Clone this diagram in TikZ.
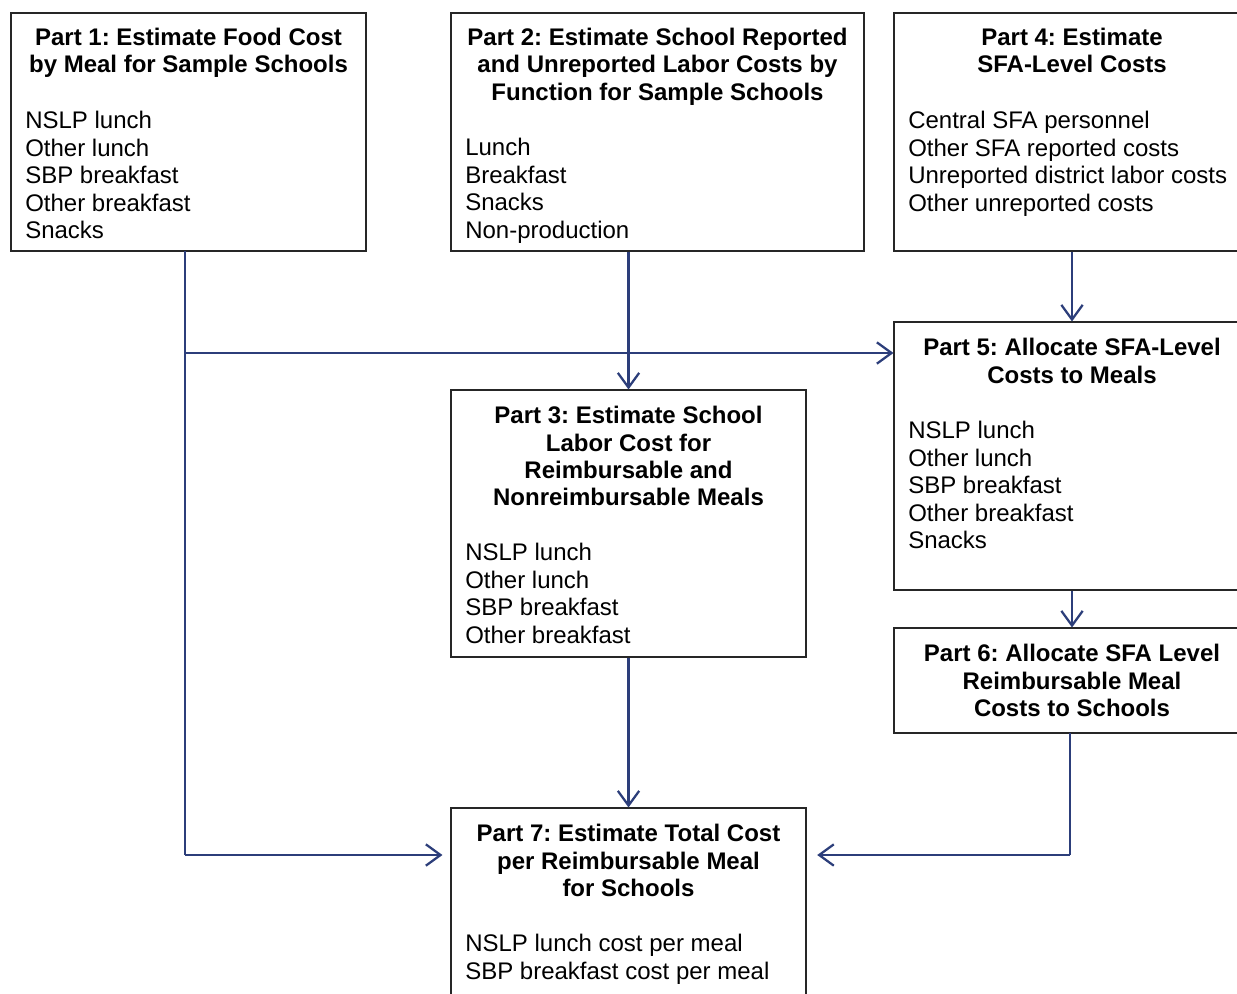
\documentclass[tikz,border=0pt]{standalone}
\usepackage{fontspec}
\setmainfont{Liberation Sans}
\usetikzlibrary{arrows.meta,fit}
\definecolor{arrblue}{RGB}{44,62,122}
\frenchspacing
\tikzset{
  box/.style={draw=black!85, line width=0.8pt, inner sep=0pt, fill=none},
  ttl/.style={font=\frenchspacing\bfseries\fontsize{18}{20.5}\selectfont, align=center, inner sep=0pt, anchor=north},
  lst/.style={font=\frenchspacing\fontsize{18}{20.6}\selectfont, align=left, inner sep=0pt, anchor=north west},
  conn/.style={draw=arrblue, line width=1.7pt},
  arr/.style={conn, -{Straight Barb[length=11pt,width=16pt,line width=1.7pt]}}
}
\begin{document}
\begin{tikzpicture}[x=0.75pt,y=-0.75pt]
\clip (0,0) rectangle (1237,993);
\useasboundingbox (0,0) rectangle (1237,993);
% boxes
\node[box, fit={(11,13) (366,251)}] (b1) {};
\node[box, fit={(451,13) (864,251)}] (b2) {};
\node[box, fit={(894,13) (1250,251)}] (b4) {};
\node[box, fit={(894,322) (1250,590)}] (b5) {};
\node[box, fit={(451,390) (806,657)}] (b3) {};
\node[box, fit={(894,628) (1250,733)}] (b6) {};
\node[box, fit={(451,808) (806,1010)}] (b7) {};
% texts
\node[ttl] (t1) at (188.5,28) {Part 1: Estimate Food Cost\\by Meal for Sample Schools};
\node[lst] (l1) at (25,111) {NSLP lunch\\Other lunch\\SBP breakfast\\Other breakfast\\Snacks};
\node[ttl] (t2) at (657.5,28) {Part 2: Estimate School Reported\\and Unreported Labor Costs by\\Function for Sample Schools};
\node[lst] (l2) at (465,138) {Lunch\\Breakfast\\Snacks\\Non-production};
\node[ttl] (t4) at (1072,28) {Part 4: Estimate\\SFA-Level Costs};
\node[lst] (l4) at (908,111) {Central SFA personnel\\Other SFA reported costs\\Unreported district labor costs\\Other unreported costs};
\node[ttl] (t5) at (1072,338) {Part 5: Allocate SFA-Level\\Costs to Meals};
\node[lst] (l5) at (908,421) {NSLP lunch\\Other lunch\\SBP breakfast\\Other breakfast\\Snacks};
\node[ttl] (t3) at (628.5,406) {Part 3: Estimate School\\Labor Cost for\\Reimbursable and\\Nonreimbursable Meals};
\node[lst] (l3) at (465,543) {NSLP lunch\\Other lunch\\SBP breakfast\\Other breakfast};
\node[ttl] (t6) at (1072,644) {Part 6: Allocate SFA Level\\Reimbursable Meal\\Costs to Schools};
\node[ttl] (t7) at (628.5,824) {Part 7: Estimate Total Cost\\per Reimbursable Meal\\for Schools};
\node[lst] (l7) at (465,934) {NSLP lunch cost per meal\\SBP breakfast cost per meal};
% junction coordinates
\coordinate (p1) at (185,251);
\coordinate (j1) at (185,353);
\coordinate (j2) at (185,855);
\coordinate (p6) at (1070,733);
\coordinate (j6) at (1070,855);
% connectors
\draw[conn] (p1) -- (j2);
\draw[arr] (j1) -- (j1 -| b5.west);
\draw[arr, shorten >=6pt] (j2) -- (j2 -| b7.west);
\draw[arr] (b3.north |- b2.south) -- (b3.north);
\draw[arr] (b5.north |- b4.south) -- (b5.north);
\draw[arr] (b5.south) -- (b6.north);
\draw[arr] (b3.south) -- (b7.north);
\draw[conn] (p6) -- (j6);
\draw[arr, shorten >=8pt] (j6) -- (j6 -| b7.east);
\end{tikzpicture}
\end{document}
